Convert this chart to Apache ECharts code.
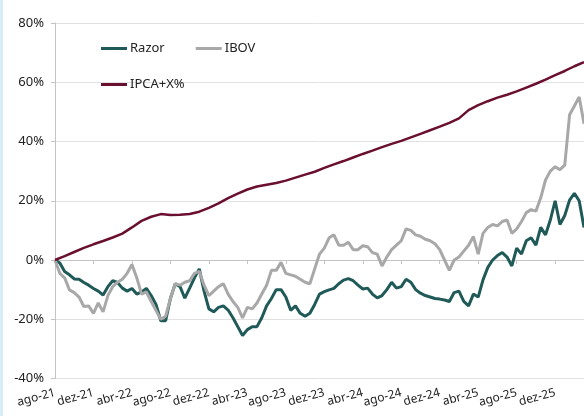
<!DOCTYPE html>
<html><head><meta charset="utf-8">
<script src="https://cdn.jsdelivr.net/npm/echarts@6/dist/echarts.min.js"></script>
<style>html,body{margin:0;padding:0;background:#fff}#c{width:584px;height:416px}</style>
</head><body><div id="c"></div>
<script>
// x-axis tick labels (one every 4 months, starting ago-21)
const tickLabels = ['ago-21','dez-21','abr-22','ago-22','dez-22','abr-23','ago-23','dez-23','abr-24','ago-24','dez-24','abr-25','ago-25','dez-25'];
// Razor & IBOV: one reading every half month from ago-21 (month 0) to month 55
const razor = [
  0, -1.0, -3.9, -5.0, -6.4, -6.5, -7.6, -8.5, -9.6, -10.5,
  -11.8, -9.0, -7.0, -7.6, -9.5, -10.5, -9.6, -11.5, -10.8, -9.6,
  -12.0, -15.0, -20.5, -20.5, -13.0, -8.0, -9.0, -12.9, -9.5, -6.0,
  -3.0, -10.5, -16.5, -17.5, -16.0, -15.5, -16.9, -19.5, -22.5, -25.5,
  -23.5, -22.5, -22.5, -19.5, -15.5, -13.0, -10.0, -10.0, -12.5, -17.0,
  -15.5, -18.0, -19.0, -18.0, -15.0, -11.5, -10.7, -10.1, -9.6, -8.0,
  -6.8, -6.3, -7.0, -8.5, -9.8, -9.5, -11.5, -12.8, -12.0, -10.0,
  -7.5, -9.5, -9.0, -6.5, -7.5, -10.0, -11.2, -12.0, -12.5, -13.0,
  -13.2, -13.5, -14.0, -11.0, -10.5, -14.0, -15.5, -11.5, -12.5, -6.7,
  -2.5, 0.0, 1.5, 2.5, 1.0, -2.0, 4.0, 2.0, 6.5, 7.5,
  5.0, 11.0, 8.5, 13.5, 20.0, 12.0, 15.0, 20.2, 22.5, 20.0,
  11.0
];
const ibov = [
  0, -4.5, -6.0, -10.1, -11.0, -12.5, -15.7, -15.5, -18.0, -14.5,
  -17.5, -12.0, -9.0, -7.5, -6.5, -4.5, -1.5, -6.0, -11.5, -10.8,
  -14.0, -17.0, -20.0, -19.0, -13.0, -8.0, -8.5, -7.5, -7.0, -4.5,
  -3.8, -8.5, -12.0, -10.5, -9.0, -8.0, -11.5, -14.0, -16.0, -19.5,
  -16.0, -16.5, -14.5, -11.5, -8.5, -3.5, -3.5, -0.8, -4.5, -5.0,
  -5.5, -6.5, -7.5, -8.0, -3.0, 2.0, 4.0, 7.5, 8.5, 5.0,
  5.0, 6.0, 3.5, 3.5, 4.8, 4.5, 2.5, 2.0, -2.0, 1.0,
  3.5, 5.0, 6.5, 10.5, 10.0, 8.5, 8.0, 7.0, 6.5, 5.5,
  3.5, 0.0, -3.5, 0.0, 1.0, 3.0, 5.0, 7.9, 2.0, 9.0,
  11.0, 12.0, 11.5, 13.0, 13.5, 9.0, 10.5, 13.0, 16.0, 17.0,
  16.5, 21.0, 27.0, 30.0, 31.5, 30.5, 32.0, 49.0, 52.0, 55.0,
  46.0
];
// IPCA+X%: one reading per month, month 0..55
const ipca = [
  0, 1.3, 2.7, 4.1, 5.3, 6.4, 7.6, 8.9, 11.0, 13.2,
  14.6, 15.5, 15.2, 15.3, 15.5, 16.3, 17.6, 19.1, 20.9, 22.4,
  23.8, 24.8, 25.4, 26.0, 26.8, 27.8, 28.8, 29.8, 31.1, 32.3,
  33.4, 34.6, 35.8, 36.9, 38.1, 39.2, 40.2, 41.4, 42.6, 43.8,
  45.0, 46.3, 47.8, 50.6, 52.3, 53.6, 54.8, 55.8, 56.9, 58.2,
  59.5, 60.9, 62.4, 63.8, 65.4, 66.8
];
const halfStep = 0.5, monthStep = 1;
const toPairs = (arr, step) => arr.map((v, i) => [i * step, v]);

const chart = echarts.init(document.getElementById('c'), null, {renderer: 'canvas'});
const font = 'Noto Sans';
const xBase = {type: 'value', min: 0, max: 55, interval: 4};
chart.setOption({
  animation: false,
  backgroundColor: '#fff',
  graphic: [{type: 'rect', left: 0, top: 0, shape: {width: 3, height: 416}, style: {fill: '#d5eef6'}, z: 100}],
  grid: {left: 55, right: 0, top: 23, bottom: 37.5, containLabel: false},
  legend: [
    {left: 96, top: 37, itemWidth: 26, itemHeight: 3, itemGap: 31, icon: 'rect', data: ['Razor', 'IBOV'],
     textStyle: {fontFamily: font, fontSize: 13, color: '#222', padding: [0, 0, 9, -2]}},
    {left: 96, top: 73, itemWidth: 26, itemHeight: 3, icon: 'rect', data: ['IPCA+X%'],
     textStyle: {fontFamily: font, fontSize: 13, color: '#222', padding: [0, 0, 9, -2]}}
  ],
  xAxis: [
    Object.assign({}, xBase, {position: 'top',
      axisLine: {show: true, onZero: true, lineStyle: {color: '#c4c4c4', width: 1}},
      axisTick: {show: true, inside: true, length: 4, lineStyle: {color: '#c4c4c4'}},
      axisLabel: {show: false}, splitLine: {show: false}}),
    Object.assign({}, xBase, {position: 'bottom',
      axisLine: {show: false}, axisTick: {show: false}, splitLine: {show: false},
      axisLabel: {show: true, rotate: 15, margin: 14, fontFamily: font, fontSize: 12, color: '#222',
        showMaxLabel: false,
        formatter: v => { const k = Math.round(v / 4); return (v % 4 === 0 && k < tickLabels.length) ? tickLabels[k] : ''; }}})
  ],
  yAxis: {
    type: 'value', min: -40, max: 80, interval: 20,
    axisLine: {show: true, lineStyle: {color: '#c4c4c4'}},
    axisTick: {show: true, length: 4, lineStyle: {color: '#c4c4c4'}},
    splitLine: {show: true, lineStyle: {color: '#e2e2e2', width: 1}},
    axisLabel: {formatter: '{value}%', margin: 11, fontFamily: font, fontSize: 13, color: '#222'}
  },
  series: [
    {name: 'Razor', type: 'line', xAxisIndex: 0, data: toPairs(razor, halfStep), showSymbol: false, symbol: 'none',
     lineStyle: {color: '#1f5a58', width: 3}, itemStyle: {color: '#1f5a58'}, z: 2},
    {name: 'IBOV', type: 'line', xAxisIndex: 0, data: toPairs(ibov, halfStep), showSymbol: false, symbol: 'none',
     lineStyle: {color: '#a8a8a8', width: 3}, itemStyle: {color: '#a8a8a8'}, z: 3},
    {name: 'IPCA+X%', type: 'line', xAxisIndex: 0, data: toPairs(ipca, monthStep), showSymbol: false, symbol: 'none',
     lineStyle: {color: '#6a0f30', width: 2.5}, itemStyle: {color: '#6a0f30'}, z: 4}
  ]
});
</script></body></html>
